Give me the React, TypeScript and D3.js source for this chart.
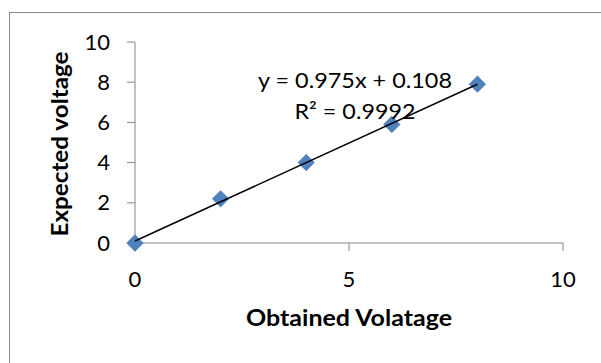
import { useEffect, useRef } from "react";
import * as d3 from "d3";

const obtained = [0, 2, 4, 6, 8];
const expected = [0, 2.2, 4.0, 5.9, 7.9];
const xTicks = [0, 5, 10];
const yTicks = [0, 2, 4, 6, 8, 10];
const eqLabel = "y = 0.975x + 0.108";
const r2Label = "R² = 0.9992";

const ScatterChart = () => {
    const svgRef = useRef<SVGSVGElement>(null);

    useEffect(() => {
        const svg = d3.select(svgRef.current);
        svg.selectAll("*").remove();

        const width = 601;
        const height = 363;
        const font = "Lato, 'Open Sans', sans-serif";
        const axisColor = "#868686";
        const fs = 22;

        svg.attr("width", width).attr("height", height);

        svg.append("rect")
            .attr("x", 9.5)
            .attr("y", 12.5)
            .attr("width", 700)
            .attr("height", 500)
            .attr("fill", "white")
            .attr("stroke", "#8c8c8c")
            .attr("stroke-width", 1);

        const x = d3.scaleLinear().domain([0, 10]).range([135, 563]);
        const y = d3.scaleLinear().domain([0, 10]).range([243, 42]);

        // y axis
        const gy = svg.append("g");
        gy.append("line")
            .attr("x1", x(0)).attr("x2", x(0))
            .attr("y1", y(10)).attr("y2", y(0))
            .attr("stroke", axisColor);
        gy.selectAll(".yt")
            .data(yTicks)
            .enter()
            .append("line")
            .attr("x1", x(0) - 8).attr("x2", x(0))
            .attr("y1", (d) => y(d)).attr("y2", (d) => y(d))
            .attr("stroke", axisColor);
        gy.selectAll(".yl")
            .data(yTicks)
            .enter()
            .append("text")
            .attr("x", x(0) - 25)
            .attr("y", (d) => y(d) + 7.5)
            .attr("text-anchor", "end")
            .attr("font-family", font)
            .attr("font-size", fs)
            .attr("fill", "#000")
            .text((d) => d);

        // x axis
        const gx = svg.append("g");
        gx.append("line")
            .attr("x1", x(0)).attr("x2", x(10))
            .attr("y1", y(0)).attr("y2", y(0))
            .attr("stroke", axisColor);
        gx.selectAll(".xt")
            .data(xTicks)
            .enter()
            .append("line")
            .attr("x1", (d) => x(d)).attr("x2", (d) => x(d))
            .attr("y1", y(0)).attr("y2", y(0) + 8)
            .attr("stroke", axisColor);
        gx.selectAll(".xl")
            .data(xTicks)
            .enter()
            .append("text")
            .attr("x", (d) => x(d))
            .attr("y", 287)
            .attr("text-anchor", "middle")
            .attr("font-family", font)
            .attr("font-size", fs)
            .attr("fill", "#000")
            .text((d) => d);

        // axis titles
        svg.append("text")
            .attr("x", 349)
            .attr("y", 326)
            .attr("text-anchor", "middle")
            .attr("font-family", font)
            .attr("font-weight", "bold")
            .attr("font-size", fs)
            .attr("textLength", 206)
            .attr("lengthAdjust", "spacingAndGlyphs")
            .text("Obtained Volatage");
        svg.append("text")
            .attr("transform", `translate(68,144) rotate(-90)`)
            .attr("text-anchor", "middle")
            .attr("font-family", font)
            .attr("font-weight", "bold")
            .attr("font-size", fs)
            .attr("textLength", 185)
            .attr("lengthAdjust", "spacingAndGlyphs")
            .text("Expected voltage");

        // linear trend line from the data
        const pts = obtained.map((v, i) => [v, expected[i]] as [number, number]);
        const mx = d3.mean(obtained)!;
        const my = d3.mean(expected)!;
        const slope =
            d3.sum(pts, (p) => (p[0] - mx) * (p[1] - my)) /
            d3.sum(pts, (p) => (p[0] - mx) ** 2);
        const icpt = my - slope * mx;
        const x0 = d3.min(obtained)!;
        const x1 = d3.max(obtained)!;

        svg.selectAll(".pt")
            .data(pts)
            .enter()
            .append("path")
            .attr("d", d3.symbol().type(d3.symbolDiamond2).size(190))
            .attr("transform", (d) => `translate(${x(d[0])},${y(d[1])})`)
            .attr("fill", "#4f81bd");

        svg.append("line")
            .attr("x1", x(x0)).attr("y1", y(slope * x0 + icpt))
            .attr("x2", x(x1)).attr("y2", y(slope * x1 + icpt))
            .attr("stroke", "#000")
            .attr("stroke-width", 1.5);

        svg.append("text")
            .attr("x", 355)
            .attr("y", 88)
            .attr("text-anchor", "middle")
            .attr("font-family", font)
            .attr("font-size", fs)
            .attr("textLength", 194)
            .attr("lengthAdjust", "spacingAndGlyphs")
            .text(eqLabel);
        svg.append("text")
            .attr("x", 355)
            .attr("y", 119)
            .attr("text-anchor", "middle")
            .attr("font-family", font)
            .attr("font-size", fs)
            .attr("textLength", 121)
            .attr("lengthAdjust", "spacingAndGlyphs")
            .text(r2Label);
    }, []);

    return <svg ref={svgRef} style={{ position: "absolute", left: 0, top: 0 }} />;
};

export default function App() {
    return <ScatterChart />;
}
